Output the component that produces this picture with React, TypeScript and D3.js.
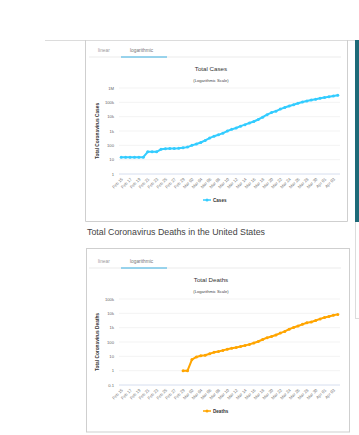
import React from "react";
import * as d3 from "d3";

const dates = [
  "Feb 15","Feb 16","Feb 17","Feb 18","Feb 19","Feb 20","Feb 21","Feb 22","Feb 23","Feb 24",
  "Feb 25","Feb 26","Feb 27","Feb 28","Feb 29","Mar 01","Mar 02","Mar 03","Mar 04","Mar 05",
  "Mar 06","Mar 07","Mar 08","Mar 09","Mar 10","Mar 11","Mar 12","Mar 13","Mar 14","Mar 15",
  "Mar 16","Mar 17","Mar 18","Mar 19","Mar 20","Mar 21","Mar 22","Mar 23","Mar 24","Mar 25",
  "Mar 26","Mar 27","Mar 28","Mar 29","Mar 30","Mar 31","Apr 01","Apr 02","Apr 03","Apr 04",
];

const cases = [
  15, 15, 15, 15, 15, 15, 35, 35, 35, 53,
  57, 60, 60, 62, 68, 75, 100, 124, 158, 221,
  319, 435, 541, 704, 994, 1301, 1630, 2183, 2770, 3613,
  4596, 6344, 9197, 13779, 19367, 24192, 33592, 43781, 54856, 68211,
  85435, 104126, 124665, 143025, 164620, 189618, 216721, 245540, 277965, 312237,
];

const deaths: (number | null)[] = [
  null, null, null, null, null, null, null, null, null, null,
  null, null, null, null, 1, 1, 6, 9, 11, 12,
  15, 19, 22, 26, 31, 37, 42, 49, 57, 68,
  86, 108, 150, 200, 241, 309, 419, 550, 784, 1027,
  1295, 1704, 2221, 2513, 3170, 4076, 5102, 6095, 7403, 8444,
];

const casesTicks = [1, 10, 100, 1000, 10000, 100000, 1000000];
const casesTickLabels = ["1", "10", "100", "1k", "10k", "100k", "1M"];
const deathsTicks = [0.1, 1, 10, 100, 1000, 10000, 100000];
const deathsTickLabels = ["0.1", "1", "10", "100", "1k", "10k", "100k"];

const FONT = "Arial, 'Liberation Sans', sans-serif";

type ChartProps = {
  top: number;
  title: string;
  yTitle: string;
  legend: string;
  color: string;
  values: (number | null)[];
  ticks: number[];
  tickLabels: string[];
};

function Chart({ top, title, yTitle, legend, color, values, ticks, tickLabels }: ChartProps) {
  const plotTop = top + 47;
  const plotBottom = top + 133;
  const x = d3.scalePoint<string>().domain(dates).range([119, 340]).padding(0.5);
  const y = d3
    .scaleLog()
    .domain([ticks[0], ticks[ticks.length - 1]])
    .range([plotBottom, plotTop]);
  const pts = dates
    .map((d, i) => ({ d, v: values[i] }))
    .filter((p) => p.v != null) as { d: string; v: number }[];
  const line = d3
    .line<{ d: string; v: number }>()
    .x((p) => x(p.d)!)
    .y((p) => y(p.v));
  const midY = (plotTop + plotBottom) / 2;
  return (
    <g>
      {/* tabs */}
      <text x={98} y={top + 10.5} fontSize={4.8} fill="#9a9a9a" fontFamily={FONT}>linear</text>
      <text x={130} y={top + 10.5} fontSize={4.8} fill="#777" fontFamily={FONT}>logarithmic</text>
      <line x1={89} x2={341} y1={top + 16} y2={top + 16} stroke="#e6e6e6" strokeWidth={0.8} />
      <line x1={121} x2={167} y1={top + 16} y2={top + 16} stroke="#3ab0e2" strokeWidth={1} />
      {/* titles */}
      <text x={211} y={top + 30} fontSize={6.2} fill="#333" textAnchor="middle" fontFamily={FONT}>{title}</text>
      <text x={211} y={top + 40.5} fontSize={4.1} fill="#444" textAnchor="middle" fontFamily={FONT}>(Logarithmic Scale)</text>
      {/* grid + y labels */}
      {ticks.map((t, i) => (
        <g key={t}>
          <line
            x1={119}
            x2={340}
            y1={y(t)}
            y2={y(t)}
            stroke={i === 0 ? "#ccd6eb" : "#f0f0f0"}
            strokeWidth={0.8}
          />
          <text x={114} y={y(t) + 1.5} fontSize={4.2} fill="#666" textAnchor="end" fontFamily={FONT}>
            {tickLabels[i]}
          </text>
        </g>
      ))}
      <text
        transform={`translate(99,${midY}) rotate(-90)`}
        fontSize={4.8}
        fontWeight="bold"
        fill="#333"
        textAnchor="middle"
        fontFamily={FONT}
      >
        {yTitle}
      </text>
      {/* x labels */}
      {dates.map((d, i) =>
        i % 2 === 0 ? (
          <text
            key={d}
            transform={`translate(${x(d)! + 2},${plotBottom + 5.5}) rotate(-45)`}
            fontSize={4.2}
            fill="#777"
            textAnchor="end"
            fontFamily={FONT}
          >
            {d}
          </text>
        ) : null
      )}
      {/* series */}
      <path d={line(pts) || ""} fill="none" stroke={color} strokeWidth={2} strokeLinejoin="round" />
      {pts.map((p) => (
        <circle key={p.d} cx={x(p.d)} cy={y(p.v)} r={1.5} fill={color} />
      ))}
      {/* legend */}
      <line x1={203} x2={211} y1={top + 159} y2={top + 159} stroke={color} strokeWidth={1.5} />
      <circle cx={207} cy={top + 159} r={1.5} fill={color} />
      <text x={213} y={top + 160.6} fontSize={4.6} fontWeight="bold" fill="#333" fontFamily={FONT}>{legend}</text>
    </g>
  );
}

export default function App() {
  return (
    <svg
      width={359}
      height={435}
      style={{ position: "absolute", left: 0, top: 0, background: "#fff" }}
    >
      <rect x={0} y={0} width={359} height={435} fill="#fff" />
      {/* top rule */}
      <line x1={45} x2={355} y1={40.5} y2={40.5} stroke="#dcdcdc" strokeWidth={1} />
      {/* right sidebar */}
      <rect x={355} y={40} width={4} height={182} fill="#1e6a78" />
      <line x1={355.5} x2={355.5} y1={222} y2={318} stroke="#dcdcdc" strokeWidth={1} />
      <line x1={355} x2={359} y1={318.5} y2={318.5} stroke="#dcdcdc" strokeWidth={1} />
      {/* panel 1 */}
      <path d="M85.5,40 L85.5,221.5 L347.5,221.5 L347.5,40" fill="none" stroke="#cfcfcf" strokeWidth={1} />
      <Chart
        top={41}
        title="Total Cases"
        yTitle="Total Coronavirus Cases"
        legend="Cases"
        color="#33ccff"
        values={cases}
        ticks={casesTicks}
        tickLabels={casesTickLabels}
      />
      <text x={87} y={235} fontSize={8.8} fill="#444" fontFamily={FONT}>
        Total Coronavirus Deaths in the United States
      </text>
      {/* panel 2 */}
      <rect x={86.5} y={248.5} width={263} height={183.5} fill="none" stroke="#cfcfcf" strokeWidth={1} />
      <Chart
        top={252}
        title="Total Deaths"
        yTitle="Total Coronavirus Deaths"
        legend="Deaths"
        color="#ffa500"
        values={deaths}
        ticks={deathsTicks}
        tickLabels={deathsTickLabels}
      />
    </svg>
  );
}
